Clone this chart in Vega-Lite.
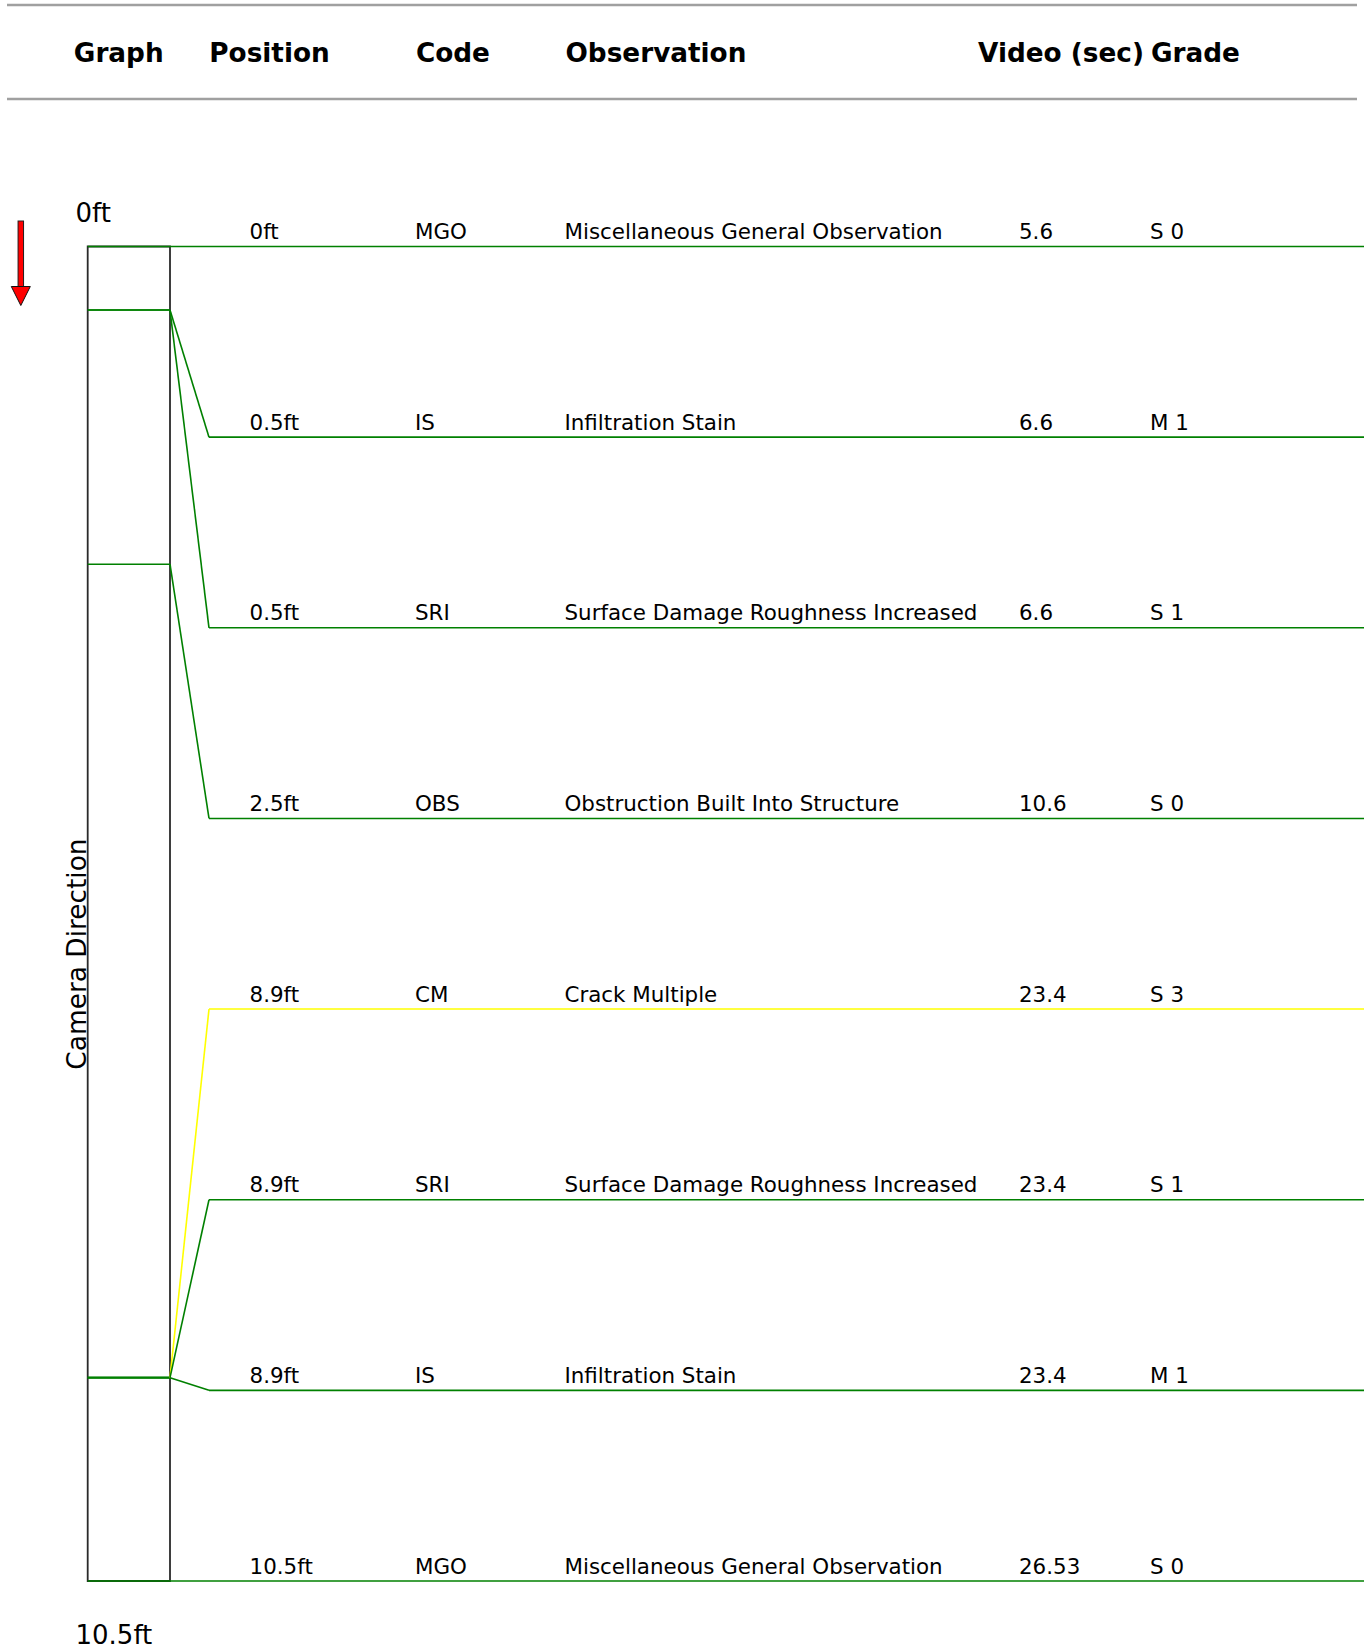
{
  "$schema": "https://vega.github.io/schema/vega-lite/v6.json",
  "width": 1364,
  "height": 1650,
  "padding": 0,
  "autosize": {"type": "none"},
  "background": "white",
  "config": {
    "view": {"stroke": null},
    "axis": {"disable": true},
    "legend": {"disable": true},
    "text": {"font": "DejaVu Sans", "color": "#000000"}
  },
  "datasets": {
    "one": [{}],
    "obs": [
      {"row": 0, "position": "0ft", "ft": 0, "code": "MGO", "observation": "Miscellaneous General Observation", "video": "5.6", "grade": "S 0"},
      {"row": 1, "position": "0.5ft", "ft": 0.5, "code": "IS", "observation": "Infiltration Stain", "video": "6.6", "grade": "M 1"},
      {"row": 2, "position": "0.5ft", "ft": 0.5, "code": "SRI", "observation": "Surface Damage Roughness Increased", "video": "6.6", "grade": "S 1"},
      {"row": 3, "position": "2.5ft", "ft": 2.5, "code": "OBS", "observation": "Obstruction Built Into Structure", "video": "10.6", "grade": "S 0"},
      {"row": 4, "position": "8.9ft", "ft": 8.9, "code": "CM", "observation": "Crack Multiple", "video": "23.4", "grade": "S 3"},
      {"row": 5, "position": "8.9ft", "ft": 8.9, "code": "SRI", "observation": "Surface Damage Roughness Increased", "video": "23.4", "grade": "S 1"},
      {"row": 6, "position": "8.9ft", "ft": 8.9, "code": "IS", "observation": "Infiltration Stain", "video": "23.4", "grade": "M 1"},
      {"row": 7, "position": "10.5ft", "ft": 10.5, "code": "MGO", "observation": "Miscellaneous General Observation", "video": "26.53", "grade": "S 0"}
    ]
  },
  "layer": [
    {
      "data": {"name": "one"},
      "mark": {"type": "rule", "color": "#a0a0a0", "strokeWidth": 2.5},
      "encoding": {
        "x": {"datum": 7, "type": "quantitative", "scale": {"domain": [0, 1364], "nice": false, "zero": false}, "axis": null},
        "x2": {"datum": 1357},
        "y": {"datum": -1.9002, "type": "quantitative", "scale": {"domain": [0, 10.5], "range": [246.5, 1581], "nice": false, "zero": false}, "axis": null}
      }
    },
    {
      "data": {"name": "one"},
      "mark": {"type": "rule", "color": "#a0a0a0", "strokeWidth": 2.5},
      "encoding": {
        "x": {"datum": 7, "type": "quantitative"},
        "x2": {"datum": 1357},
        "y": {"datum": -1.1606, "type": "quantitative"}
      }
    },
    {
      "data": {"name": "one"},
      "mark": {"type": "text", "text": "Graph", "fontWeight": "bold", "fontSize": 26.3, "align": "left", "baseline": "alphabetic"},
      "encoding": {"x": {"datum": 73.8, "type": "quantitative"}, "y": {"datum": -1.452, "type": "quantitative"}}
    },
    {
      "data": {"name": "one"},
      "mark": {"type": "text", "text": "Position", "fontWeight": "bold", "fontSize": 26.3, "align": "left", "baseline": "alphabetic"},
      "encoding": {"x": {"datum": 209.3, "type": "quantitative"}, "y": {"datum": -1.452, "type": "quantitative"}}
    },
    {
      "data": {"name": "one"},
      "mark": {"type": "text", "text": "Code", "fontWeight": "bold", "fontSize": 26.3, "align": "left", "baseline": "alphabetic"},
      "encoding": {"x": {"datum": 415.9, "type": "quantitative"}, "y": {"datum": -1.452, "type": "quantitative"}}
    },
    {
      "data": {"name": "one"},
      "mark": {"type": "text", "text": "Observation", "fontWeight": "bold", "fontSize": 26.3, "align": "left", "baseline": "alphabetic"},
      "encoding": {"x": {"datum": 565.5, "type": "quantitative"}, "y": {"datum": -1.452, "type": "quantitative"}}
    },
    {
      "data": {"name": "one"},
      "mark": {"type": "text", "text": "Video (sec)", "fontWeight": "bold", "fontSize": 26.3, "align": "left", "baseline": "alphabetic"},
      "encoding": {"x": {"datum": 978, "type": "quantitative"}, "y": {"datum": -1.452, "type": "quantitative"}}
    },
    {
      "data": {"name": "one"},
      "mark": {"type": "text", "text": "Grade", "fontWeight": "bold", "fontSize": 26.3, "align": "left", "baseline": "alphabetic"},
      "encoding": {"x": {"datum": 1151, "type": "quantitative"}, "y": {"datum": -1.452, "type": "quantitative"}}
    },
    {
      "data": {"name": "one"},
      "mark": {"type": "rect", "fillOpacity": 0, "fill": "white", "stroke": "#2a2a2a", "strokeWidth": 1.8},
      "encoding": {
        "x": {"datum": 87.7, "type": "quantitative"},
        "x2": {"datum": 170},
        "y": {"datum": 0, "type": "quantitative"},
        "y2": {"datum": 10.5}
      }
    },
    {
      "data": {"name": "obs"},
      "mark": {"type": "rule", "color": "#008000", "strokeWidth": 1.6},
      "encoding": {
        "x": {"datum": 87.7, "type": "quantitative"},
        "x2": {"datum": 170},
        "y": {"field": "ft", "type": "quantitative"}
      }
    },
    {
      "data": {"name": "obs"},
      "transform": [{"calculate": "datum.row * 1.5", "as": "slot"}],
      "mark": {"type": "rule", "strokeWidth": 1.6},
      "encoding": {
        "x": {"datum": 170, "type": "quantitative"},
        "x2": {"datum": 209},
        "y": {"field": "ft", "type": "quantitative"},
        "y2": {"field": "slot"},
        "color": {"field": "grade", "type": "nominal", "scale": {"domain": ["S 0", "M 1", "S 1", "S 3"], "range": ["#008000", "#008000", "#008000", "#ffff00"]}, "legend": null}
      }
    },
    {
      "data": {"name": "obs"},
      "transform": [{"calculate": "datum.row * 1.5", "as": "slot"}],
      "mark": {"type": "rule", "strokeWidth": 1.6},
      "encoding": {
        "x": {"datum": 209, "type": "quantitative"},
        "x2": {"datum": 1364},
        "y": {"field": "slot", "type": "quantitative"},
        "color": {"field": "grade", "type": "nominal", "legend": null}
      }
    },
    {
      "data": {"name": "obs"},
      "transform": [{"calculate": "datum.row * 1.5", "as": "slot"}],
      "mark": {"type": "text", "fontSize": 21.4, "align": "left", "baseline": "alphabetic", "dy": -7.5},
      "encoding": {"x": {"datum": 249.6, "type": "quantitative"}, "y": {"field": "slot", "type": "quantitative"}, "text": {"field": "position", "type": "nominal"}}
    },
    {
      "data": {"name": "obs"},
      "transform": [{"calculate": "datum.row * 1.5", "as": "slot"}],
      "mark": {"type": "text", "fontSize": 21.4, "align": "left", "baseline": "alphabetic", "dy": -7.5},
      "encoding": {"x": {"datum": 415, "type": "quantitative"}, "y": {"field": "slot", "type": "quantitative"}, "text": {"field": "code", "type": "nominal"}}
    },
    {
      "data": {"name": "obs"},
      "transform": [{"calculate": "datum.row * 1.5", "as": "slot"}],
      "mark": {"type": "text", "fontSize": 21.4, "align": "left", "baseline": "alphabetic", "dy": -7.5},
      "encoding": {"x": {"datum": 564.5, "type": "quantitative"}, "y": {"field": "slot", "type": "quantitative"}, "text": {"field": "observation", "type": "nominal"}}
    },
    {
      "data": {"name": "obs"},
      "transform": [{"calculate": "datum.row * 1.5", "as": "slot"}],
      "mark": {"type": "text", "fontSize": 21.4, "align": "left", "baseline": "alphabetic", "dy": -7.5},
      "encoding": {"x": {"datum": 1019, "type": "quantitative"}, "y": {"field": "slot", "type": "quantitative"}, "text": {"field": "video", "type": "nominal"}}
    },
    {
      "data": {"name": "obs"},
      "transform": [{"calculate": "datum.row * 1.5", "as": "slot"}],
      "mark": {"type": "text", "fontSize": 21.4, "align": "left", "baseline": "alphabetic", "dy": -7.5},
      "encoding": {"x": {"datum": 1150, "type": "quantitative"}, "y": {"field": "slot", "type": "quantitative"}, "text": {"field": "grade", "type": "nominal"}}
    },
    {
      "data": {"name": "one"},
      "mark": {"type": "text", "text": "0ft", "fontSize": 26, "align": "left", "baseline": "alphabetic"},
      "encoding": {"x": {"datum": 75.5, "type": "quantitative"}, "y": {"datum": -0.1928, "type": "quantitative"}}
    },
    {
      "data": {"name": "one"},
      "mark": {"type": "text", "text": "10.5ft", "fontSize": 26, "align": "left", "baseline": "alphabetic"},
      "encoding": {"x": {"datum": 75.5, "type": "quantitative"}, "y": {"datum": 10.996, "type": "quantitative"}}
    },
    {
      "data": {"name": "one"},
      "mark": {"type": "text", "text": "Camera Direction", "fontSize": 26.4, "align": "center", "baseline": "alphabetic", "angle": 270},
      "encoding": {"x": {"datum": 85.5, "type": "quantitative"}, "y": {"datum": 5.567, "type": "quantitative"}}
    },
    {
      "data": {"name": "one"},
      "mark": {"type": "rule", "color": "#222222", "strokeWidth": 6.5, "strokeCap": "butt"},
      "encoding": {"x": {"datum": 20.8, "type": "quantitative"}, "y": {"datum": -0.2045, "type": "quantitative"}, "y2": {"datum": 0.33}}
    },
    {
      "data": {"name": "one"},
      "mark": {"type": "rule", "color": "#ff0000", "strokeWidth": 4.5, "strokeCap": "butt"},
      "encoding": {"x": {"datum": 20.8, "type": "quantitative"}, "y": {"datum": -0.197, "type": "quantitative"}, "y2": {"datum": 0.33}}
    },
    {
      "data": {"name": "one"},
      "mark": {"type": "point", "shape": "M-1,-1L1,-1L0,1Z", "size": 361, "filled": true, "fill": "#ff0000", "fillOpacity": 1, "stroke": "#111111", "strokeWidth": 1, "opacity": 1},
      "encoding": {"x": {"datum": 20.8, "type": "quantitative"}, "y": {"datum": 0.3895, "type": "quantitative"}}
    }
  ]
}
